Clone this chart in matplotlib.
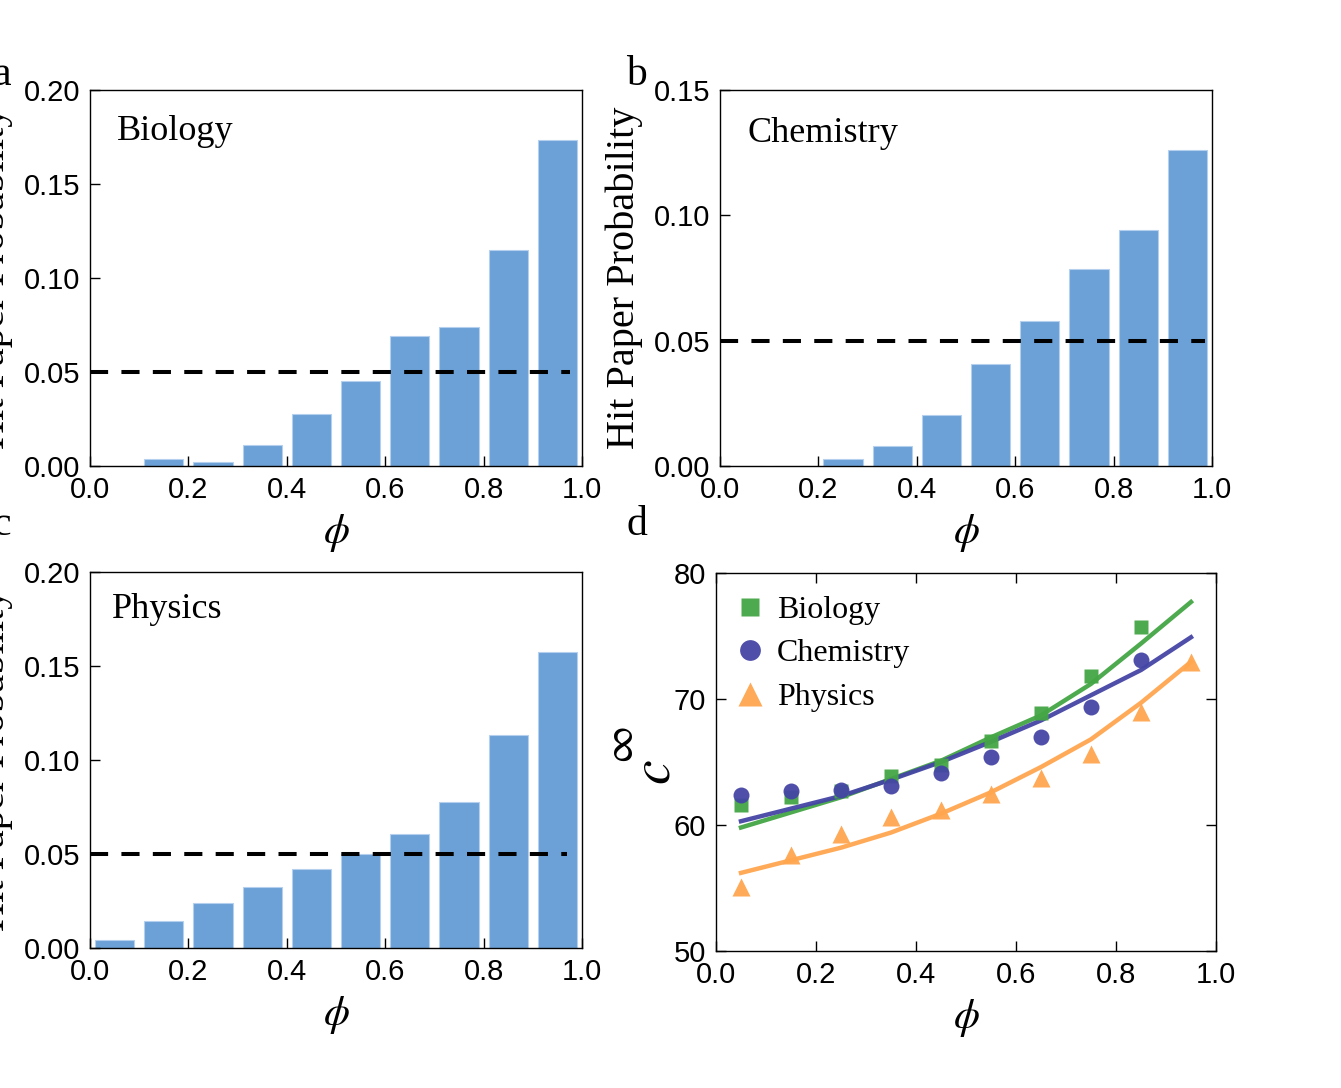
import matplotlib
matplotlib.use("Agg")
import matplotlib.pyplot as plt
import numpy as np

plt.rcParams['mathtext.fontset'] = 'stix'
plt.rcParams['font.family'] = 'Liberation Sans'

W, H = 1341, 1088

# bar data (phi bins centred at 0.05 ... 0.95)
phi_bins = [0.05, 0.15, 0.25, 0.35, 0.45, 0.55, 0.65, 0.75, 0.85, 0.95]
bio_prob = [0.0, 0.0035, 0.002, 0.0112, 0.0275, 0.0452, 0.0691, 0.0741, 0.1149, 0.1734]
chem_prob = [0.0, 0.0, 0.0029, 0.008, 0.0202, 0.0408, 0.0578, 0.0785, 0.0943, 0.1261]
phys_prob = [0.0044, 0.0142, 0.0238, 0.0324, 0.042, 0.05, 0.0608, 0.0778, 0.1135, 0.1573]

# panel d: c_inf vs phi
phi_pts = [0.05, 0.15, 0.25, 0.35, 0.45, 0.55, 0.65, 0.75, 0.85]
bio_c = [61.6, 62.2, 62.7, 63.9, 64.8, 66.7, 68.9, 71.8, 75.7]
chem_c = [62.4, 62.7, 62.8, 63.1, 64.1, 65.4, 67.0, 69.4, 73.1]
phi_phys = [0.05, 0.15, 0.25, 0.35, 0.45, 0.55, 0.65, 0.75, 0.85, 0.95]
phys_c = [55.1, 57.6, 59.3, 60.6, 61.2, 62.5, 63.7, 65.6, 69.0, 72.9]

# fitted curves
phi_fit = [0.05, 0.15, 0.25, 0.35, 0.45, 0.55, 0.65, 0.75, 0.85, 0.95]
bio_fit = [59.8, 61.0, 62.2, 63.65, 65.1, 66.96, 68.7, 71.2, 74.4, 77.7]
chem_fit = [60.3, 61.3, 62.3, 63.6, 65.0, 66.6, 68.3, 70.3, 72.3, 74.9]
phys_fit = [56.2, 57.2, 58.2, 59.4, 60.9, 62.6, 64.6, 66.8, 69.7, 72.95]

BAR = '#6ba1d7'
GREEN = '#44a644'
BLUE = '#4545a6'
ORANGE = '#ffa64f'
SERIF = 'Liberation Serif'


def rect(x0, x1, y0, y1):
    return [x0 / W, (H - y1) / H, (x1 - x0) / W, (y1 - y0) / H]


def style(ax, all_sides):
    ax.tick_params(direction='in', length=7, width=1, labelsize=21, pad=7,
                   top=all_sides, right=all_sides)
    for s in ax.spines.values():
        s.set_linewidth(1.0)


fig = plt.figure(figsize=(W / 100, H / 100), dpi=100)


def bar_panel(r, vals, ymax, yticks, name, dash_x):
    ax = fig.add_axes(r)
    ax.bar(phi_bins, vals, width=0.08, color=BAR, edgecolor='#b5d0ee', linewidth=0.8)
    ax.plot(dash_x, [0.05, 0.05], color='k', lw=2.9, dashes=(4.5, 3.3))
    ax.set_xlim(0, 1)
    ax.set_ylim(0, ymax)
    ax.set_xticks([0.0, 0.2, 0.4, 0.6, 0.8, 1.0])
    ax.set_yticks(yticks)
    ax.set_xticklabels(['0.0', '0.2', '0.4', '0.6', '0.8', '1.0'])
    ax.set_yticklabels(['%.2f' % t for t in yticks])
    style(ax, False)
    ax.set_xlabel(r'$\phi$', fontsize=30, labelpad=6)
    ax.set_ylabel('Hit Paper Probability', fontsize=29, family=SERIF, labelpad=8)
    ax.text(0.055, 0.89, name, transform=ax.transAxes, fontsize=26, family=SERIF,
            va='center', ha='left')
    return ax


ax_a = bar_panel(rect(90, 582, 90, 466), bio_prob, 0.20, [0.0, 0.05, 0.10, 0.15, 0.20],
                 'Biology', [0.0, 0.975])
ax_b = bar_panel(rect(720, 1212, 90, 466), chem_prob, 0.15, [0.0, 0.05, 0.10, 0.15],
                 'Chemistry', [0.0, 0.985])
ax_c = bar_panel(rect(90, 582, 572, 948), phys_prob, 0.20, [0.0, 0.05, 0.10, 0.15, 0.20],
                 'Physics', [0.0, 0.97])
ax_b.texts[0].set_position((0.055, 0.885))
ax_c.texts[0].set_position((0.045, 0.9))

# panel d
ax_d = fig.add_axes(rect(716, 1216, 573, 951))
ax_d.plot(phi_fit, bio_fit, color=GREEN, lw=3.2, alpha=0.95)
ax_d.plot(phi_fit, chem_fit, color=BLUE, lw=3.2, alpha=0.95)
ax_d.plot(phi_fit, phys_fit, color=ORANGE, lw=3.2, alpha=0.95)
ax_d.plot(phi_pts, bio_c, 's', color=GREEN, ms=10, alpha=0.95, mec='none', label='Biology')
ax_d.plot(phi_pts, chem_c, 'o', color=BLUE, ms=11.5, alpha=0.95, mec='none', label='Chemistry')
ax_d.plot(phi_phys, phys_c, '^', color=ORANGE, ms=13, alpha=0.95, mec='none', label='Physics')
ax_d.set_xlim(0, 1)
ax_d.set_ylim(50, 80)
ax_d.set_xticks([0.0, 0.2, 0.4, 0.6, 0.8, 1.0])
ax_d.set_xticklabels(['0.0', '0.2', '0.4', '0.6', '0.8', '1.0'])
ax_d.set_yticks([50, 60, 70, 80])
style(ax_d, True)
ax_d.set_xlabel(r'$\phi$', fontsize=30, labelpad=6)
# y label c^inf built from two rotated pieces
fig.text(655 / W, 1 - 772 / H, r'$c$', fontsize=40, rotation=90, ha='center', va='center')
fig.text(622 / W, 1 - 745 / H, r'$\infty$', fontsize=30, rotation=90, ha='center', va='center')
ax_d.legend(loc='upper left', frameon=False, prop={'family': SERIF, 'size': 23},
            handletextpad=0.25, labelspacing=0.45, borderaxespad=0.3, handlelength=1.2,
            markerscale=1.3, bbox_to_anchor=(-0.015, 1.0))

# panel letters
for lab, x, y in [('a', -8, 75), ('b', 626, 75), ('c', -8, 525), ('d', 626, 525)]:
    fig.text(x / W, 1 - y / H, lab, fontsize=30, family=SERIF, va='center', ha='left')

fig.savefig('out.png', dpi=100)
